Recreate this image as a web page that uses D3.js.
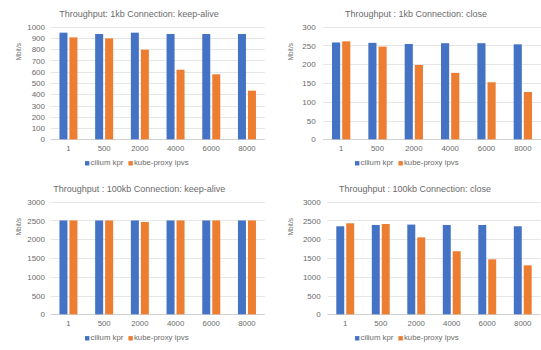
<!DOCTYPE html>
<html>
<head>
<meta charset="utf-8">
<script src="https://cdn.jsdelivr.net/npm/d3@7"></script>
<style>
  html, body { margin: 0; padding: 0; background: #fff; }
  svg { display: block; }
  text { font-family: "Liberation Sans", Arial, sans-serif; fill: #6b6b6b; }
</style>
</head>
<body>
<svg id="chart" width="541" height="350"></svg>
<script>
// ---- data ----
const categories = ["1", "500", "2000", "4000", "6000", "8000"];
const seriesNames = ["cilium kpr", "kube-proxy ipvs"];

const titles = [
  "Throughput: 1kb Connection: keep-alive",
  "Throughput : 1kb Connection: close",
  "Throughput : 100kb Connection: keep-alive",
  "Throughput : 100kb Connection: close"
];

const kb1KeepAliveCilium = [947, 935, 947, 935, 935, 935];
const kb1KeepAliveIpvs   = [905, 896, 796, 618, 577, 432];
const kb1CloseCilium     = [258, 257, 254, 256, 256, 253];
const kb1CloseIpvs       = [261, 247, 198, 177, 152, 126];
const kb100KeepAliveCilium = [2500, 2500, 2500, 2500, 2500, 2500];
const kb100KeepAliveIpvs   = [2500, 2500, 2460, 2500, 2500, 2500];
const kb100CloseCilium     = [2345, 2380, 2390, 2380, 2380, 2345];
const kb100CloseIpvs       = [2425, 2405, 2050, 1680, 1465, 1305];

const yMaxes = [1000, 300, 3000, 3000];
const yStepSizes = [100, 50, 500, 500];
const yAxisTitle = "Mbit/s";

const seriesData = [
  [kb1KeepAliveCilium, kb1KeepAliveIpvs],
  [kb1CloseCilium, kb1CloseIpvs],
  [kb100KeepAliveCilium, kb100KeepAliveIpvs],
  [kb100CloseCilium, kb100CloseIpvs]
];

// ---- layout (positions only) ----
const layouts = [
  { ox: 0,   oy: 0,   x0: 50.6,  x1: 264.8, yT: 26.7,  yB: 139.3, titleX: 139,   labR: 45,    yTitleX: 19.5 },
  { ox: 270, oy: 0,   x0: 323,   x1: 541,   yT: 26.7,  yB: 139.3, titleX: 416,   labR: 315.7, yTitleX: 291.5 },
  { ox: 0,   oy: 175, x0: 50.6,  x1: 264.8, yT: 201.7, yB: 314.3, titleX: 139.3, labR: 45,    yTitleX: 19.5 },
  { ox: 270, oy: 175, x0: 327.5, x1: 540.5, yT: 201.7, yB: 314.3, titleX: 415,   labR: 320.7, yTitleX: 291.5 }
];

const colors = d3.scaleOrdinal().domain(seriesNames).range(["#4472C4", "#ED7D31"]);

const svg = d3.select("#chart");

layouts.forEach((L, i) => {
  const g = svg.append("g");
  const x = d3.scaleBand().domain(categories).range([L.x0, L.x1]).paddingInner(0.496).paddingOuter(0.248);
  const xs = d3.scaleBand().domain(seriesNames).range([0, x.bandwidth()]).paddingInner(0.2);
  const y = d3.scaleLinear().domain([0, yMaxes[i]]).range([L.yB, L.yT]);
  const ticks = d3.range(0, yMaxes[i] + 1e-9, yStepSizes[i]);

  // gridlines
  g.append("g").selectAll("line").data(ticks).join("line")
    .attr("x1", L.x0).attr("x2", L.x1)
    .attr("y1", d => Math.round(y(d)) + 0.5).attr("y2", d => Math.round(y(d)) + 0.5)
    .attr("stroke", d => d === 0 ? "#d0d0d0" : "#e6e6e6").attr("stroke-width", 1);

  // y axis labels
  const yAxis = d3.axisLeft(y).tickValues(ticks).tickFormat(d3.format("d")).tickSize(0).tickPadding(0);
  const ya = g.append("g").attr("transform", `translate(${L.labR},0)`).call(yAxis);
  ya.select(".domain").remove();
  ya.selectAll("text").attr("font-size", 8).attr("fill", "#707070")
    .attr("font-family", "Liberation Sans, Arial, sans-serif");

  // x axis labels
  const xAxis = d3.axisBottom(x).tickSize(0).tickPadding(0);
  const xa = g.append("g").attr("transform", `translate(0,${L.yB + 6})`).call(xAxis);
  xa.select(".domain").remove();
  xa.selectAll("text").attr("font-size", 7.8).attr("fill", "#707070")
    .attr("font-family", "Liberation Sans, Arial, sans-serif");

  // bars
  seriesNames.forEach((s, si) => {
    g.append("g").selectAll("rect").data(seriesData[i][si]).join("rect")
      .attr("x", (d, k) => x(categories[k]) + xs(s))
      .attr("width", xs.bandwidth())
      .attr("y", d => y(d))
      .attr("height", d => y(0) - y(d))
      .attr("fill", colors(s));
  });

  // title
  g.append("text").attr("x", L.titleX).attr("y", L.oy + 16.5)
    .attr("text-anchor", "middle").attr("font-size", 9).attr("fill", "#5a5a5a")
    .text(titles[i]);

  // y axis title
  const yc = L.yT + 25;
  g.append("text").attr("transform", `translate(${L.yTitleX},${yc}) rotate(-90)`)
    .attr("text-anchor", "middle").attr("dominant-baseline", "middle")
    .attr("font-size", 6.5).attr("fill", "#707070").text(yAxisTitle);

  // legend
  const ly = L.oy + 163.3;
  let lx = L.ox + 85;
  seriesNames.forEach(s => {
    g.append("rect").attr("x", lx).attr("y", ly - 2.2).attr("width", 4.4).attr("height", 4.4).attr("fill", colors(s));
    const t = g.append("text").attr("x", lx + 5.5).attr("y", ly).attr("dominant-baseline", "middle")
      .attr("font-size", 7.8).attr("fill", "#707070").text(s);
    lx = lx + 5.5 + t.node().getComputedTextLength() + 5;
  });
});
</script>
</body>
</html>
